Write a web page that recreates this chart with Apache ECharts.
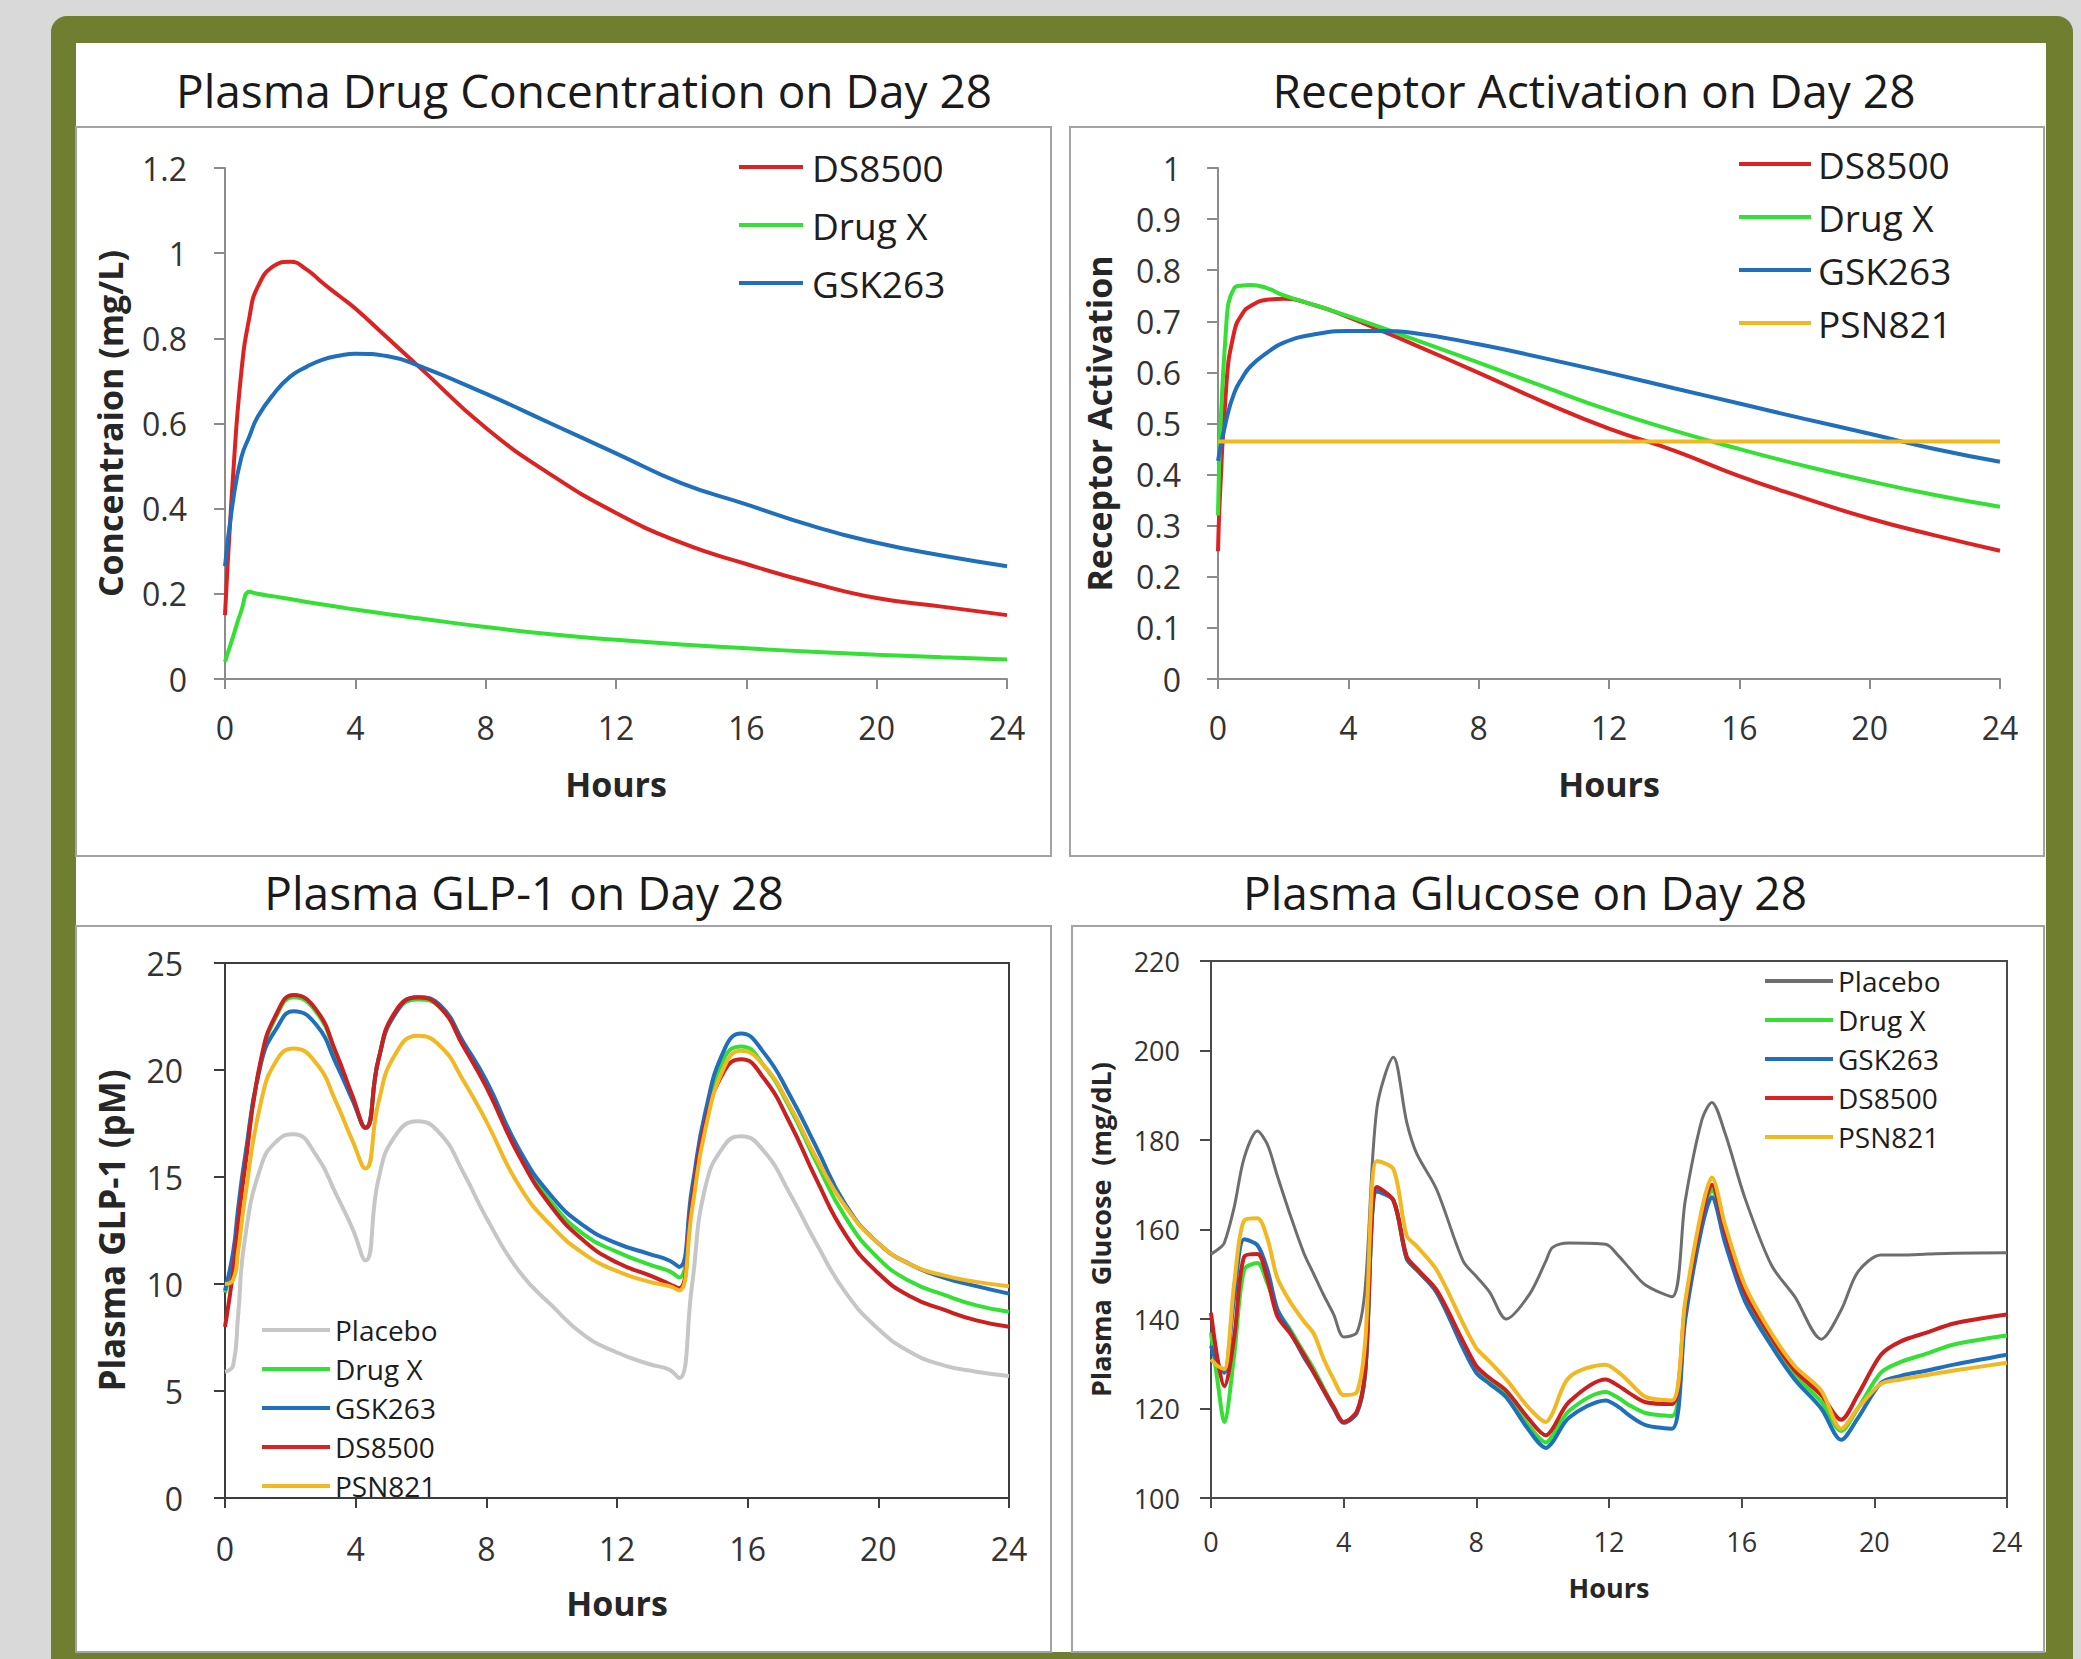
<!DOCTYPE html>
<html>
<head>
<meta charset="utf-8">
<script src="https://cdn.jsdelivr.net/npm/echarts@6/dist/echarts.min.js"></script>
<style>
  html, body { margin: 0; padding: 0; background: #d9d9d9; }
  #main { width: 2081px; height: 1659px; }
</style>
</head>
<body>
<div id="main"></div>
<script>
// ---- Plasma drug concentration (mg/L) ----
var concHours = [0, 0.25, 0.5, 0.75, 1, 1.5, 2, 2.5, 3, 3.5, 4, 5, 6, 8, 10, 12, 14, 16, 18, 20, 22, 24];
var concDS8500 = [0.15, 0.48, 0.72, 0.85, 0.92, 0.97, 0.98, 0.962, 0.93, 0.90, 0.87, 0.80, 0.73, 0.59, 0.48, 0.39, 0.32, 0.27, 0.226, 0.19, 0.17, 0.15];
var concDrugX = [0.04, 0.10, 0.16, 0.205, 0.2, 0.194, 0.188, 0.181, 0.175, 0.169, 0.163, 0.152, 0.142, 0.122, 0.105, 0.092, 0.081, 0.072, 0.064, 0.057, 0.051, 0.046];
var concGSK263 = [0.265, 0.42, 0.52, 0.57, 0.615, 0.67, 0.71, 0.733, 0.75, 0.759, 0.764, 0.758, 0.734, 0.67, 0.60, 0.53, 0.46, 0.41, 0.36, 0.32, 0.29, 0.265];

// ---- Receptor activation ----
var recHours = [0, 0.25, 0.5, 0.75, 1, 1.5, 2, 3, 4, 5, 6, 8, 10, 12, 14, 16, 18, 20, 22, 24];
var recDS8500 = [0.25, 0.57, 0.68, 0.715, 0.73, 0.742, 0.744, 0.731, 0.708, 0.682, 0.655, 0.599, 0.542, 0.49, 0.447, 0.397, 0.354, 0.314, 0.281, 0.251];
var recDrugX = [0.32, 0.69, 0.765, 0.77, 0.771, 0.765, 0.751, 0.731, 0.71, 0.688, 0.665, 0.619, 0.572, 0.526, 0.486, 0.45, 0.417, 0.387, 0.36, 0.337];
var recGSK263 = [0.427, 0.506, 0.56, 0.59, 0.612, 0.638, 0.658, 0.675, 0.681, 0.681, 0.677, 0.655, 0.628, 0.599, 0.569, 0.539, 0.509, 0.48, 0.45, 0.425];
var recFlatHours = [0, 24];
var recPSN821 = [0.465, 0.465];

// ---- Plasma GLP-1 (pM) ----
var glpHours = [0, 0.25, 0.4, 0.6, 1.1, 1.6, 2.1, 2.8, 3.4, 3.9, 4.3, 4.7, 5.2, 5.9, 6.6, 7.3, 8, 9, 10, 11, 12, 13, 13.6, 13.9, 14.3, 14.7, 15.3, 15.8, 16.5, 17.3, 18.1, 19, 20, 21, 22, 23, 24];
var glpPlacebo = [5.9, 6.2, 8.5, 12.0, 15.5, 16.7, 17.0, 16.0, 14.2, 12.6, 11.1, 14.9, 16.9, 17.6, 17.0, 15.2, 13.1, 10.6, 9.0, 7.6, 6.8, 6.25, 6.0, 5.6, 10.0, 14.5, 16.5, 16.9, 16.2, 14.2, 11.9, 9.6, 7.9, 6.8, 6.2, 5.9, 5.7];
var glpDrugX = [9.6, 11.2, 13.2, 15.6, 20.4, 22.6, 23.4, 22.7, 20.7, 18.7, 17.3, 20.5, 22.6, 23.3, 22.9, 21.2, 19.3, 16.1, 13.8, 12.3, 11.5, 10.9, 10.6, 10.3, 14.2, 17.7, 20.6, 21.1, 20.2, 18.2, 15.7, 13.1, 11.2, 10.1, 9.5, 9.0, 8.7];
var glpGSK263 = [9.7, 11.5, 13.5, 15.8, 20.3, 22.0, 22.75, 22.1, 20.3, 18.6, 17.3, 20.5, 22.6, 23.4, 23.0, 21.3, 19.5, 16.3, 14.1, 12.7, 11.9, 11.4, 11.1, 10.8, 14.5, 18.0, 21.0, 21.7, 20.8, 18.8, 16.4, 13.7, 11.9, 10.9, 10.3, 9.9, 9.55];
var glpDS8500 = [8.0, 10.6, 12.8, 15.3, 20.5, 22.7, 23.5, 22.8, 20.8, 18.8, 17.3, 20.5, 22.7, 23.4, 22.9, 21.1, 19.2, 16.0, 13.6, 12.0, 11.0, 10.4, 10.0, 9.8, 13.9, 17.5, 20.0, 20.5, 19.6, 17.5, 14.9, 12.3, 10.5, 9.4, 8.8, 8.3, 8.0];
var glpPSN821 = [10.0, 10.2, 11.5, 13.9, 18.5, 20.5, 21.0, 20.3, 18.5, 16.7, 15.4, 18.5, 20.7, 21.6, 21.1, 19.5, 17.6, 14.6, 12.7, 11.4, 10.6, 10.1, 9.9, 9.7, 13.5, 17.2, 20.2, 20.9, 20.2, 18.3, 15.9, 13.6, 11.9, 10.9, 10.4, 10.1, 9.9];

// ---- Plasma glucose (mg/dL) ----
var gluHours = [0, 0.2, 0.4, 0.7, 1.0, 1.4, 1.7, 2.0, 2.4, 2.8, 3.1, 3.4, 3.7, 4.0, 4.4, 4.65, 5.0, 5.5, 5.9, 6.2, 6.8, 7.6, 8.0, 8.4, 8.9, 9.6, 10.1, 10.3, 10.8, 11.9, 12.3, 12.6, 13.1, 13.9, 14.3, 14.8, 15.1, 15.5, 16.1, 16.9, 17.6, 18.4, 19.0, 19.5, 20.2, 20.8, 21.6, 22.4, 24];
var gluPlacebo = [154.5, 155.5, 157, 165, 176, 182, 179, 172, 163, 154.7, 150, 145.3, 141, 136, 137, 147, 187, 198.5, 184, 177, 169, 153, 149.5, 146, 140, 145.5, 153, 156, 157, 156.7, 154, 151.5, 147.6, 145, 166.5, 184.5, 188.4, 181.5, 167, 152, 145, 135.5, 142, 150.5, 154.3, 154.3, 154.5, 154.7, 154.8];
var gluDrugX = [137, 126, 117, 132, 151, 152.5, 148, 142, 137.5, 132.5, 128.8, 124.5, 120.3, 117, 119, 128, 169, 166.5, 153.5, 151, 146, 134, 128.8, 126, 123, 116, 112.4, 114, 119.5, 123.7, 122.3, 120.8, 119, 118.3, 141, 162, 168.8, 158.5, 145, 135, 127.5, 121.5, 115, 120, 128, 130.4, 132.3, 134.3, 136.3];
var gluGSK263 = [134, 130, 128, 145, 157.8, 156.5, 151, 142.2, 137, 131.5, 128, 124, 120, 116.8, 119, 128, 168.5, 166.5, 153.5, 151, 146, 133.5, 128, 125.5, 122.5, 115, 111.2, 112.5, 118, 121.8, 120.3, 118.5, 116.3, 115.5, 140, 160.5, 167.2, 157, 144, 134, 126.5, 120, 113, 117.8, 125.7, 127.3, 128.5, 129.8, 132];
var gluDS8500 = [141.4, 131, 125, 136, 153.9, 154.5, 149, 140.6, 136.7, 132, 128, 124, 120.3, 117, 119.4, 128.5, 169.5, 166.5, 154, 151.3, 146.5, 135, 129.5, 126.8, 124, 117.5, 114, 115.5, 121.5, 126.5, 125, 123.5, 121.4, 121, 143, 163, 170, 159.5, 146, 135.8, 128.5, 123, 117.5, 123, 132, 135, 137, 139, 141];
var gluPSN821 = [131, 129.5, 128.8, 148, 162, 162.5, 158, 149.2, 143.7, 139.5, 136.7, 131, 126.5, 123, 123.7, 135, 175.3, 173.5, 158.6, 156.3, 151, 139, 133.5, 130.5, 126.5, 120, 117, 119, 127, 129.8, 128, 126, 122.6, 121.8, 144, 164.5, 171.6, 161, 147.5, 136.8, 129.5, 124, 115.5, 120, 125.5, 126.5, 127.5, 128.5, 130.2];

var RED = '#dd2222', GREEN = '#33e033', BLUE = '#1f6fbd', YELLOW = '#f2b822';
var DARK_RED = '#cc1f1f', GRAY_LIGHT = '#c6c6c6', GRAY_DARK = '#6e6e6e';
var FONT = 'Open Sans';

function pairs(hours, vals) {
    return hours.map(function (h, i) { return [h, vals[i]]; });
}

function line(name, hours, vals, color, idx, width, smooth) {
    return {
        name: name, type: 'line', xAxisIndex: idx, yAxisIndex: idx,
        data: pairs(hours, vals),
        symbol: 'none', smooth: smooth,
        lineStyle: {color: color, width: width},
        itemStyle: {color: color},
        emphasis: {disabled: true}
    };
}

function xAxis(idx, o) {
    return {
        gridIndex: idx, type: 'value', min: 0, max: 24, interval: 4,
        name: 'Hours', nameLocation: 'middle', nameGap: o.nameGap,
        nameTextStyle: {fontFamily: FONT, fontWeight: 'bold', fontSize: o.nameSize, color: '#262626'},
        axisLine: {show: true, lineStyle: {color: o.lineColor, width: 2}},
        axisTick: {show: true, length: 10, lineStyle: {color: o.lineColor, width: 2}},
        axisLabel: {margin: o.labelMargin, fontFamily: FONT, fontSize: o.labelSize, color: '#333'},
        splitLine: {show: false}
    };
}

function yAxis(idx, o) {
    return {
        gridIndex: idx, type: 'value', min: o.min, max: o.max, interval: o.interval,
        name: o.name, nameLocation: 'middle', nameGap: o.nameGap, nameRotate: 90,
        nameTextStyle: {fontFamily: FONT, fontWeight: 'bold', fontSize: o.nameSize, color: '#262626'},
        axisLine: {show: true, lineStyle: {color: o.lineColor, width: 2}},
        axisTick: {show: true, length: 11, lineStyle: {color: o.lineColor, width: 2}},
        axisLabel: {margin: o.labelMargin, fontFamily: FONT, fontSize: o.labelSize, color: '#333'},
        splitLine: {show: false}
    };
}

function legend(o) {
    return {
        orient: 'vertical', left: o.left, top: o.top,
        icon: 'rect', itemWidth: o.itemWidth, itemHeight: 4, itemGap: o.itemGap,
        selectedMode: false,
        data: o.data,
        textStyle: {fontFamily: FONT, fontSize: o.fontSize, lineHeight: o.lineHeight, color: '#1e1e1e', padding: [0, 0, 0, o.pad]}
    };
}

function titleText(text, x, y) {
    return {
        type: 'text', x: x, y: y, z: 10,
        style: {text: text, fontFamily: FONT, fontSize: 46, fill: '#1a1a1a', align: 'center', verticalAlign: 'middle'}
    };
}

function box(x, y, w, h) {
    return {type: 'rect', z: -8, shape: {x: x, y: y, width: w, height: h}, style: {fill: 'none', stroke: '#a3a3a3', lineWidth: 2}};
}

var chart = echarts.init(document.getElementById('main'), null, {renderer: 'svg'});

chart.setOption({
    animation: false,
    textStyle: {fontFamily: FONT},
    graphic: [
        {type: 'rect', z: -10, shape: {x: 51, y: 16, width: 2022, height: 1700, r: 16}, style: {fill: '#6f7e2f'}},
        {type: 'rect', z: -9, shape: {x: 76, y: 43, width: 1970, height: 1609}, style: {fill: '#ffffff'}},
        box(76, 127, 975, 729),
        box(1070, 127, 974, 729),
        box(76, 926, 975, 726),
        box(1072, 926, 972, 726),
        titleText('Plasma Drug Concentration on Day 28', 584, 90),
        titleText('Receptor Activation on Day 28', 1594, 90),
        titleText('Plasma GLP-1 on Day 28', 524, 892),
        titleText('Plasma Glucose on Day 28', 1525, 892)
    ],
    grid: [
        {left: 225, top: 168, width: 782, height: 511},
        {left: 1218, top: 168, width: 782, height: 511},
        {left: 225, top: 963, width: 784, height: 535, show: true, borderColor: '#3c3c3c', borderWidth: 2, backgroundColor: 'transparent'},
        {left: 1211, top: 961, width: 796, height: 537, show: true, borderColor: '#4a4a4a', borderWidth: 2, backgroundColor: 'transparent'}
    ],
    xAxis: [
        xAxis(0, {nameGap: 88, nameSize: 34, lineColor: '#8c8c8c', labelMargin: 32, labelSize: 32}),
        xAxis(1, {nameGap: 88, nameSize: 34, lineColor: '#8c8c8c', labelMargin: 32, labelSize: 32}),
        xAxis(2, {nameGap: 88, nameSize: 34, lineColor: '#3c3c3c', labelMargin: 34, labelSize: 32}),
        xAxis(3, {nameGap: 76, nameSize: 27, lineColor: '#4a4a4a', labelMargin: 30, labelSize: 27})
    ],
    yAxis: [
        yAxis(0, {min: 0, max: 1.2, interval: 0.2, name: 'Concentraion (mg/L)', nameGap: 98, nameSize: 34, lineColor: '#8c8c8c', labelMargin: 38, labelSize: 32}),
        yAxis(1, {min: 0, max: 1, interval: 0.1, name: 'Receptor Activation', nameGap: 102, nameSize: 34, lineColor: '#8c8c8c', labelMargin: 37, labelSize: 32}),
        yAxis(2, {min: 0, max: 25, interval: 5, name: 'Plasma GLP-1 (pM)', nameGap: 96, nameSize: 35, lineColor: '#3c3c3c', labelMargin: 42, labelSize: 32}),
        yAxis(3, {min: 100, max: 220, interval: 20, name: 'Plasma  Glucose  (mg/dL)', nameGap: 97, nameSize: 27, lineColor: '#4a4a4a', labelMargin: 31, labelSize: 27})
    ],
    legend: [
        legend({left: 734, top: 142, itemWidth: 64, itemGap: 18, fontSize: 37, lineHeight: 40, pad: 4, data: ['DS8500', 'Drug X', 'GSK263']}),
        legend({left: 1734, top: 139, itemWidth: 72, itemGap: 13, fontSize: 37, lineHeight: 40, pad: 2, data: ['DS8500', 'Drug X', 'GSK263', 'PSN821']}),
        legend({left: 257, top: 1309, itemWidth: 68, itemGap: 7, fontSize: 28, lineHeight: 32, pad: 0, data: ['Placebo', 'Drug X', 'GSK263', 'DS8500', 'PSN821']}),
        legend({left: 1760, top: 960, itemWidth: 68, itemGap: 7, fontSize: 28, lineHeight: 32, pad: 0, data: [
            {name: 'Placebo', itemStyle: {color: GRAY_DARK}},
            'Drug X', 'GSK263', 'DS8500', 'PSN821']})
    ],
    series: [
        line('DS8500', concHours, concDS8500, RED, 0, 4, 0.5),
        line('Drug X', concHours, concDrugX, GREEN, 0, 4, 0.5),
        line('GSK263', concHours, concGSK263, BLUE, 0, 4, 0.5),

        line('DS8500', recHours, recDS8500, RED, 1, 4, 0.5),
        line('Drug X', recHours, recDrugX, GREEN, 1, 4, 0.5),
        line('GSK263', recHours, recGSK263, BLUE, 1, 4, 0.5),
        line('PSN821', recFlatHours, recPSN821, YELLOW, 1, 4, 0),

        line('Placebo', glpHours, glpPlacebo, GRAY_LIGHT, 2, 4, 0.5),
        line('Drug X', glpHours, glpDrugX, GREEN, 2, 4, 0.5),
        line('GSK263', glpHours, glpGSK263, BLUE, 2, 4, 0.5),
        line('DS8500', glpHours, glpDS8500, DARK_RED, 2, 4, 0.5),
        line('PSN821', glpHours, glpPSN821, YELLOW, 2, 4, 0.5),

        line('Placebo', gluHours, gluPlacebo, GRAY_DARK, 3, 3, 0.3),
        line('Drug X', gluHours, gluDrugX, GREEN, 3, 4, 0.3),
        line('GSK263', gluHours, gluGSK263, BLUE, 3, 4, 0.3),
        line('DS8500', gluHours, gluDS8500, DARK_RED, 3, 4, 0.3),
        line('PSN821', gluHours, gluPSN821, YELLOW, 3, 4, 0.3)
    ]
});
</script>
</body>
</html>
